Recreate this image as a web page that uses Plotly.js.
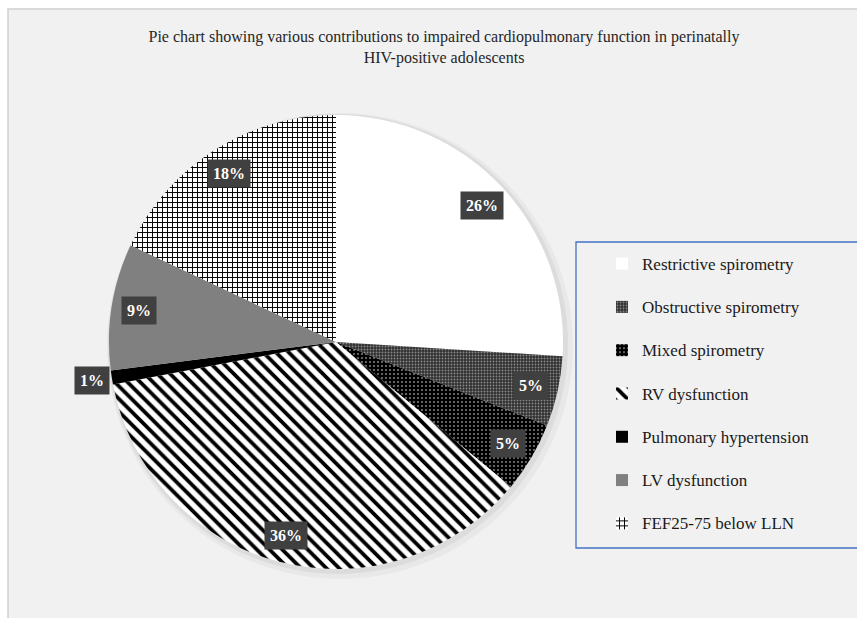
<!DOCTYPE html>
<html>
<head>
<meta charset="utf-8">
<script src="https://cdn.plot.ly/plotly-3.0.1.min.js"></script>
<style>html,body{margin:0;padding:0;background:#fff;}#chart{width:857px;height:618px;}</style>
</head>
<body>
<div id="chart"></div>
<script>
// ---- data ----
const categories = [
  'Restrictive spirometry',
  'Obstructive spirometry',
  'Mixed spirometry',
  'RV dysfunction',
  'Pulmonary hypertension',
  'LV dysfunction',
  'FEF25-75 below LLN'
];
const values = [26, 5, 5, 36, 1, 9, 18];
const titleText = 'Pie chart showing various contributions to impaired cardiopulmonary function in perinatally<br>HIV-positive adolescents';

// ---- styles ----
const W = 857, H = 618;
const serif = 'Liberation Serif, Times New Roman, serif';
const patterns = [
  {shape: '', bgcolor: '#ffffff', fgcolor: '#ffffff'},
  {shape: '.', bgcolor: '#303030', fgcolor: '#8a8a8a', size: 3, solidity: 0.3},
  {shape: '.', bgcolor: '#000000', fgcolor: '#ffffff', size: 4, solidity: 0.1},
  {shape: '\\', bgcolor: '#ffffff', fgcolor: '#000000', size: 9, solidity: 0.42},
  {shape: '', bgcolor: '#000000', fgcolor: '#000000'},
  {shape: '', bgcolor: '#808080', fgcolor: '#808080'},
  {shape: '+', bgcolor: '#ffffff', fgcolor: '#000000', size: 5, solidity: 0.35}
];
const colors = ['#ffffff', '#303030', '#000000', '#ffffff', '#000000', '#808080', '#ffffff'];

const dom = {x: [109 / W, 563 / W], y: [1 - 569 / H, 1 - 115 / H]};

// legend entries: larger text span plus a blank second line for Excel-like spacing
const legendLabels = categories.map(c => '<span style="font-size:17px">' + c + '</span><br> ');

const trace = {
  type: 'pie',
  labels: legendLabels,
  values: values,
  sort: false,
  direction: 'clockwise',
  rotation: 0,
  textinfo: 'none',
  hoverinfo: 'label+percent',
  domain: dom,
  marker: {
    colors: colors,
    line: {width: 0},
    pattern: {
      shape: patterns.map(p => p.shape),
      bgcolor: patterns.map(p => p.bgcolor),
      fgcolor: patterns.map(p => p.fgcolor),
      size: patterns.map(p => p.size || 8),
      solidity: patterns.map(p => p.solidity || 0.3),
      fillmode: 'replace'
    }
  }
};

// data label annotations placed at slice mid-angles
const total = values.reduce((a, b) => a + b, 0);
const cx = (dom.x[0] + dom.x[1]) / 2, cy = (dom.y[0] + dom.y[1]) / 2;
const rPx = (dom.x[1] - dom.x[0]) * W / 2;
let cum = 0;
const annotations = values.map(v => {
  const frac = v / total;
  const mid = (cum + frac / 2) * 2 * Math.PI;
  cum += frac;
  const f = frac < 0.02 ? 1.09 : 0.88;
  return {
    xref: 'paper', yref: 'paper',
    x: cx + rPx * f * Math.sin(mid) / W,
    y: cy + rPx * f * Math.cos(mid) / H,
    xanchor: 'center', yanchor: 'middle',
    text: Math.round(frac * 100) + '%',
    showarrow: false,
    bgcolor: '#404040',
    borderpad: 5,
    font: {family: serif, size: 16, color: '#ffffff', weight: 'bold'}
  };
});

// soft shadow circles behind the pie
const shadow = [[6, 4, 'rgba(0,0,0,0.035)'], [3, 2, 'rgba(0,0,0,0.05)']].map(([grow, off, col]) => ({
  type: 'circle', xref: 'paper', yref: 'paper', layer: 'below',
  x0: dom.x[0] + (off - grow) / W, x1: dom.x[1] + (off + grow) / W,
  y0: dom.y[0] - (off + grow) / H, y1: dom.y[1] + (grow - off) / H,
  fillcolor: col, line: {width: 0}
}));

const layout = {
  width: W, height: H,
  margin: {l: 0, r: 0, t: 0, b: 0},
  paper_bgcolor: '#ffffff',
  title: {
    text: titleText,
    x: 444 / W, xanchor: 'center', xref: 'paper',
    y: 1 - 42 / H, yanchor: 'top', yref: 'container',
    font: {family: serif, size: 16, color: '#262626'}
  },
  showlegend: true,
  legend: {
    x: 602 / W, xanchor: 'left',
    y: 1 - 247 / H, yanchor: 'top',
    valign: 'top',
    bgcolor: 'rgba(0,0,0,0)',
    borderwidth: 0,
    font: {family: serif, size: 15.5, color: '#1a1a1a'}
  },
  shapes: [
    {type: 'rect', xref: 'paper', yref: 'paper', layer: 'below',
     x0: 8 / W, x1: 1.02, y0: -0.02, y1: 1 - 9 / H,
     fillcolor: '#f1f1f1', line: {color: '#d0d0d0', width: 1.5}},
    ...shadow,
    {type: 'rect', xref: 'paper', yref: 'paper', layer: 'above',
     x0: 576 / W, x1: 1.02, y0: 1 - 548 / H, y1: 1 - 242 / H,
     fillcolor: 'rgba(0,0,0,0)', line: {color: '#4472c4', width: 1.3}}
  ],
  annotations: annotations
};

Plotly.newPlot('chart', [trace], layout, {displayModeBar: false, staticPlot: true});
</script>
</body>
</html>
